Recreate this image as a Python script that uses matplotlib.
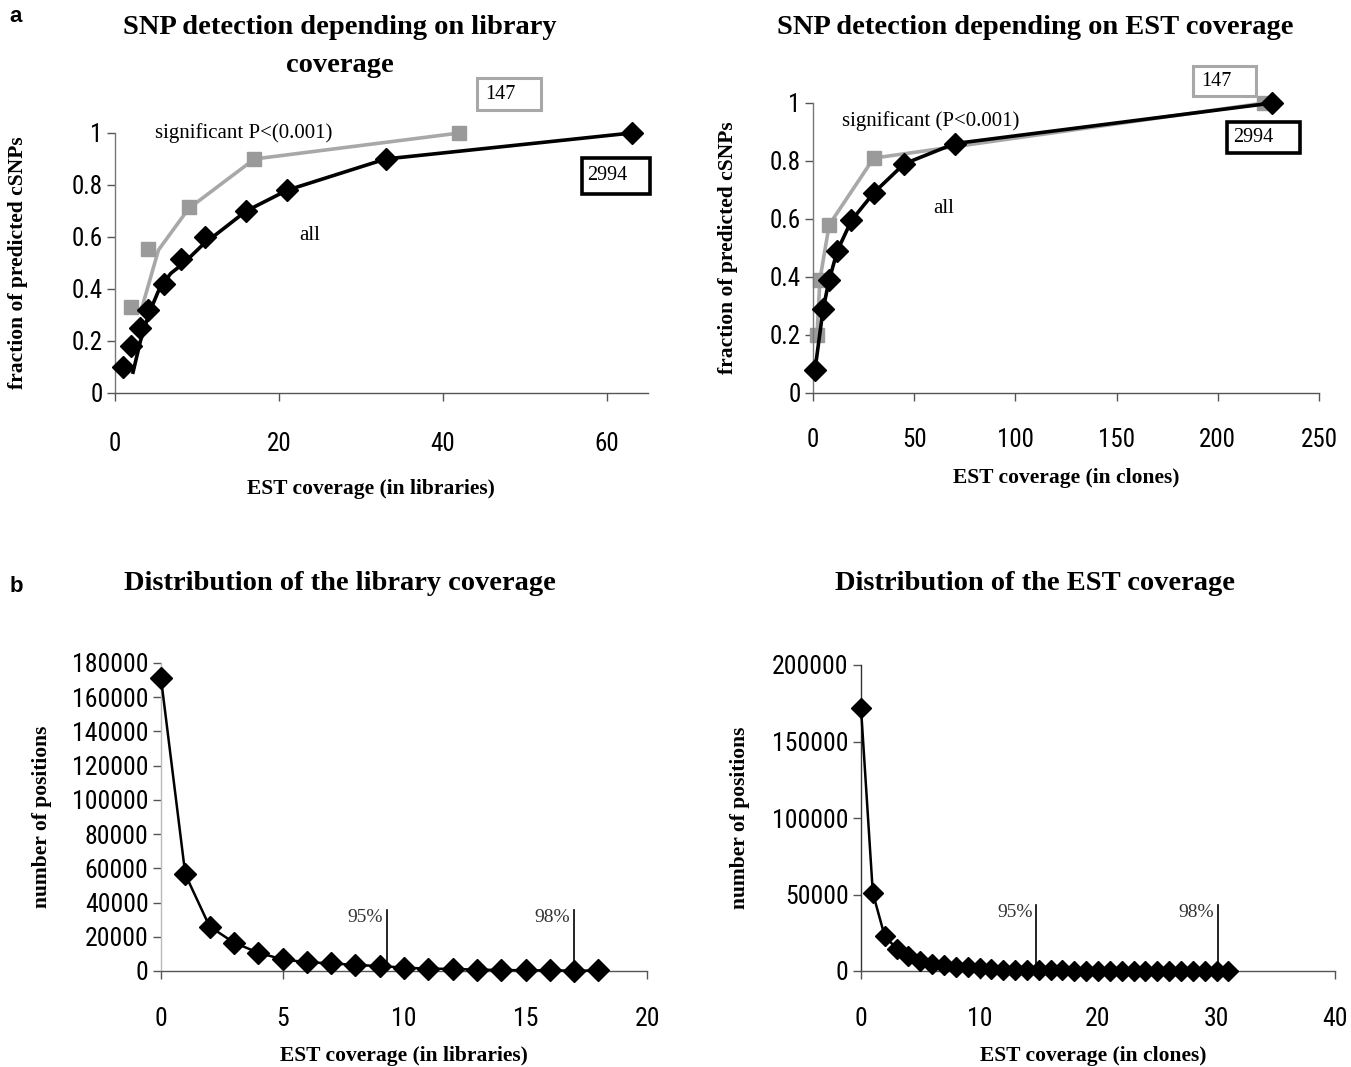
import os
import matplotlib
matplotlib.use('Agg')
import matplotlib.pyplot as plt
from matplotlib import font_manager
from matplotlib.patches import Rectangle

# ---- data ----
# a, left: library coverage
lib_all_x = [1, 2, 3, 4, 6, 8, 11, 16, 21, 33, 63]
lib_all_y = [0.10, 0.18, 0.25, 0.32, 0.42, 0.515, 0.60, 0.70, 0.78, 0.90, 1.0]
lib_all_line_x = [2.2, 3.1, 4.2, 5.4, 6.8, 8.4, 10.7, 16, 21, 33, 63]
lib_all_line_y = [0.08, 0.20, 0.31, 0.40, 0.46, 0.50, 0.57, 0.70, 0.78, 0.90, 1.0]
lib_sig_x = [2, 4, 9, 17, 42]
lib_sig_y = [0.33, 0.555, 0.715, 0.90, 1.0]
lib_sig_line_x = [3.3, 5.3, 9, 17, 42]
lib_sig_line_y = [0.33, 0.55, 0.71, 0.90, 1.0]

# a, right: EST clone coverage
est_all_x = [1, 5, 8, 12, 19, 30, 45, 70, 227]
est_all_y = [0.08, 0.29, 0.39, 0.49, 0.595, 0.69, 0.79, 0.86, 1.0]
est_sig_x = [2, 3.4, 8, 30, 223]
est_sig_y = [0.20, 0.39, 0.58, 0.81, 1.0]

# b, left: distribution of library coverage
dist_lib_x = list(range(19))
dist_lib_y = [171000, 56500, 26000, 16600, 10700, 6800, 5100, 4500, 3500, 2900,
              1950, 1400, 1200, 800, 600, 400, 400, 200, 300]
lib_marks = [(9.3, '95%'), (17.0, '98%')]
lib_mark_top = 35700

# b, right: distribution of EST coverage
dist_est_x = list(range(32))
dist_est_y = [171800, 50900, 22800, 14700, 9750, 6700, 4500, 3900, 2800, 2400,
              1700, 1300, 900, 650, 450, 450, 400, 350, 320, 300, 280, 260, 240,
              220, 200, 180, 160, 150, 140, 130, 120, 110]
est_marks = [(14.8, '95%'), (30.1, '98%')]
est_mark_top = 43000

SERIF = 'Liberation Serif'
plt.rcParams['font.family'] = 'Liberation Sans'

# tick labels in the original use a narrow sans; take one if it is installed
narrow_path = None
for want in ['liberationsansnarrow-regular', 'robotocondensed-regular',
             'dejavusanscondensed.ttf', 'notosans-condensed.ttf', 'opensans-condensed']:
    for f in font_manager.fontManager.ttflist:
        if os.path.basename(f.fname).lower().startswith(want):
            narrow_path = f.fname
            break
    if narrow_path:
        break

W, H = 1351, 1067
fig = plt.figure(figsize=(W / 100, H / 100), dpi=100)


def axes_px(left, right, top, bottom):
    return fig.add_axes([left / W, 1 - bottom / H, (right - left) / W, (bottom - top) / H])


def style(ax, tick_size, xpad, left_col='#777777'):
    for s in ('top', 'right'):
        ax.spines[s].set_visible(False)
    ax.spines['left'].set_color(left_col)
    ax.spines['bottom'].set_color('#555555')
    ax.spines['left'].set_linewidth(1)
    ax.spines['bottom'].set_linewidth(1)
    ax.tick_params(axis='both', direction='out', length=6, width=1, color='#555555')
    ax.tick_params(axis='x', pad=xpad)
    ax.tick_params(axis='y', pad=3)
    for lab in ax.get_xticklabels() + ax.get_yticklabels():
        if narrow_path:
            lab.set_fontproperties(font_manager.FontProperties(fname=narrow_path, size=tick_size + 2))
        else:
            lab.set_fontsize(tick_size)


def serif(size, bold=True):
    return dict(family=SERIF, fontsize=size, fontweight='bold' if bold else 'normal')


def boxed(ax, x0, x1, y0, y1, tx, ty, text, ec, lw):
    ax.add_patch(Rectangle((x0, y0), x1 - x0, y1 - y0, fc='white', ec=ec, lw=lw,
                           clip_on=False, zorder=5))
    ax.text(tx, ty, text, ha='left', va='center', clip_on=False, zorder=6,
            **serif(14.5, False))


GRAY = '#a8a8a8'
SQ = '#9a9a9a'

# ---- a, left ----
ax1 = axes_px(115, 648, 133, 393)
ax1.plot(lib_sig_line_x, lib_sig_line_y, color=GRAY, lw=2.6, zorder=2, clip_on=False)
ax1.plot(lib_sig_x, lib_sig_y, 's', color=SQ, ms=10, zorder=3, clip_on=False)
ax1.plot(lib_all_line_x, lib_all_line_y, color='black', lw=2.6, zorder=2, clip_on=False)
ax1.plot(lib_all_x, lib_all_y, 'D', color='black', ms=11, zorder=4, clip_on=False)
ax1.set_xlim(0, 65)
ax1.set_ylim(0, 1)
ax1.set_xticks([0, 20, 40, 60])
ax1.set_yticks([0, 0.2, 0.4, 0.6, 0.8, 1])
ax1.set_yticklabels(['0', '0.2', '0.4', '0.6', '0.8', '1'])
style(ax1, 16, 22)
ax1.set_xlabel('EST coverage (in libraries)', **serif(15.5))
ax1.set_ylabel('fraction of predicted cSNPs', **serif(15.5))
ax1.xaxis.set_label_coords(0.48, -0.33)
ax1.yaxis.set_label_coords(-0.163, 0.5)
ax1.text(4.9, 1.0, 'significant P<(0.001)', va='center', **serif(15, False))
ax1.text(22.5, 0.605, 'all', va='center', **serif(15, False))
boxed(ax1, 44.2, 52.0, 1.09, 1.213, 45.2, 1.149, '147', GRAY, 2.2)
boxed(ax1, 56.9, 65.2, 0.765, 0.903, 57.6, 0.838, '2994', 'black', 2.6)

# ---- a, right ----
ax2 = axes_px(813, 1319, 103, 393)
ax2.plot(est_sig_x, est_sig_y, 's-', color=GRAY, mfc=SQ, mec=SQ, lw=2.6, ms=10,
         zorder=2, clip_on=False)
ax2.plot(est_all_x, est_all_y, 'D-', color='black', lw=2.6, ms=11, zorder=3, clip_on=False)
ax2.set_xlim(0, 250)
ax2.set_ylim(0, 1)
ax2.set_xticks([0, 50, 100, 150, 200, 250])
ax2.set_yticks([0, 0.2, 0.4, 0.6, 0.8, 1])
ax2.set_yticklabels(['0', '0.2', '0.4', '0.6', '0.8', '1'])
style(ax2, 16, 19)
ax2.set_xlabel('EST coverage (in clones)', **serif(15.5))
ax2.set_ylabel('fraction of predicted cSNPs', **serif(15.5))
ax2.xaxis.set_label_coords(0.5, -0.26)
ax2.yaxis.set_label_coords(-0.148, 0.5)
ax2.text(14.4, 0.937, 'significant (P<0.001)', va='center', **serif(15, False))
ax2.text(64.6, 0.637, 'all', va='center', ha='center', **serif(15, False))
boxed(ax2, 187.8, 219.1, 1.025, 1.127, 191.6, 1.075, '147', GRAY, 2.2)
boxed(ax2, 204.5, 240.6, 0.829, 0.933, 207.7, 0.882, '2994', 'black', 2.6)

# ---- b, left ----
ax3 = axes_px(161, 647, 663, 971)
ax3.plot(dist_lib_x, dist_lib_y, 'D-', color='black', lw=1.8, ms=11, zorder=3, clip_on=False)
for xv, lab in lib_marks:
    ax3.plot([xv, xv], [0, lib_mark_top], color='black', lw=1.2, zorder=2)
    ax3.text(xv - 0.15, lib_mark_top * 0.88, lab, ha='right', va='center',
             color='#333333', **serif(14, False))
ax3.set_xlim(0, 20)
ax3.set_ylim(0, 180000)
ax3.set_xticks([0, 5, 10, 15, 20])
ax3.set_yticks(range(0, 180001, 20000))
style(ax3, 16.5, 20, left_col='#bbbbbb')
ax3.set_xlabel('EST coverage (in libraries)', **serif(15.5))
ax3.set_ylabel('number of positions', **serif(15.5))
ax3.xaxis.set_label_coords(0.5, -0.245)
ax3.yaxis.set_label_coords(-0.224, 0.5)

# ---- b, right ----
ax4 = axes_px(861, 1335, 665, 971)
ax4.plot(dist_est_x, dist_est_y, 'D-', color='black', lw=1.8, ms=10.5, zorder=3, clip_on=False)
for xv, lab in est_marks:
    ax4.plot([xv, xv], [0, est_mark_top], color='black', lw=1.2, zorder=2)
    ax4.text(xv - 0.3, est_mark_top * 0.89, lab, ha='right', va='center',
             color='#333333', **serif(14, False))
ax4.set_xlim(0, 40)
ax4.set_ylim(0, 200000)
ax4.set_xticks([0, 10, 20, 30, 40])
ax4.set_yticks(range(0, 200001, 50000))
style(ax4, 16.5, 20, left_col='#333333')
ax4.set_xlabel('EST coverage (in clones)', **serif(15.5))
ax4.set_ylabel('number of positions', **serif(15.5))
ax4.xaxis.set_label_coords(0.49, -0.245)
ax4.yaxis.set_label_coords(-0.234, 0.5)

# ---- titles and panel letters ----
fig.text(340 / W, 1 - 28 / H, 'SNP detection depending on library', ha='center', va='center', **serif(20.5))
fig.text(340 / W, 1 - 65 / H, 'coverage', ha='center', va='center', **serif(20.5))
fig.text(1035 / W, 1 - 28 / H, 'SNP detection depending on EST coverage', ha='center', va='center', **serif(20.5))
fig.text(340 / W, 1 - 584 / H, 'Distribution of the library coverage', ha='center', va='center', **serif(20.5))
fig.text(1035 / W, 1 - 584 / H, 'Distribution of the EST coverage', ha='center', va='center', **serif(20.5))
fig.text(16 / W, 1 - 16 / H, 'a', ha='center', va='center', family='Liberation Sans', fontsize=16, fontweight='bold')
fig.text(16 / W, 1 - 586 / H, 'b', ha='center', va='center', family='Liberation Sans', fontsize=16, fontweight='bold')

fig.savefig('out.png', dpi=100)
